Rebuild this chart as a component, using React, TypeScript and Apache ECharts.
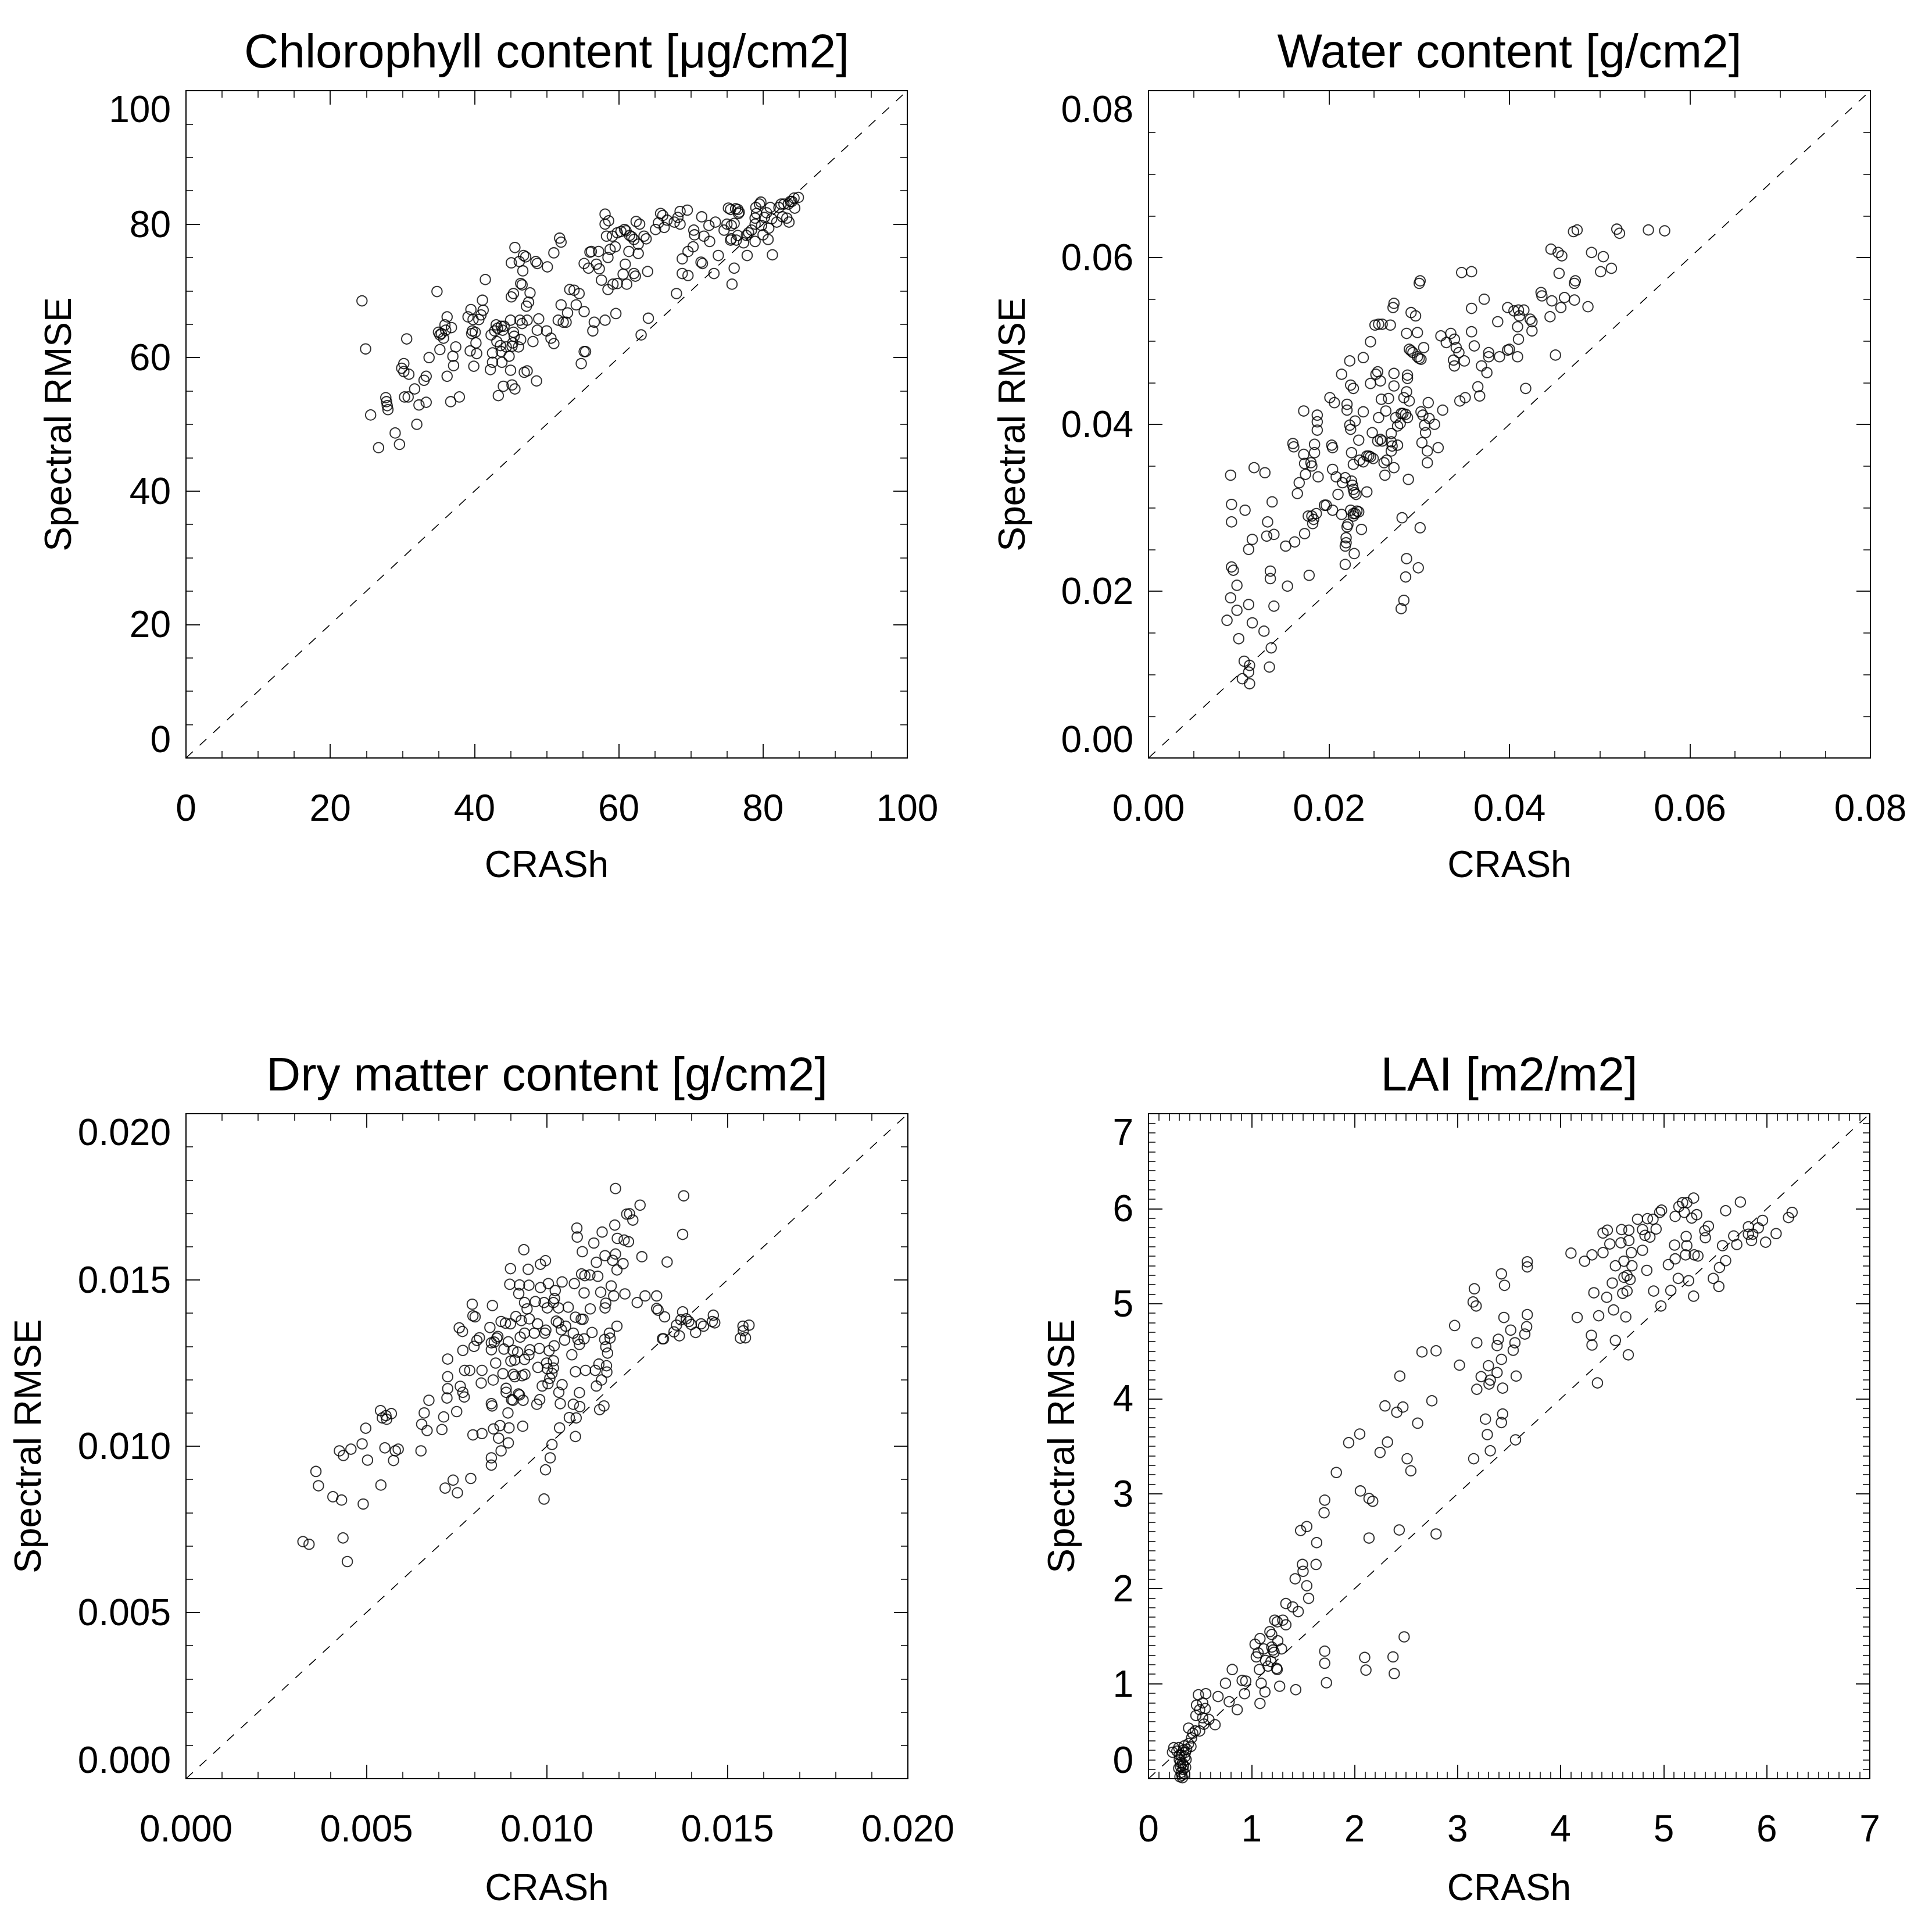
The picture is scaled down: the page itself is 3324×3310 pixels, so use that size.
import React, { useEffect, useRef } from "react";
import * as echarts from "echarts";

const FONT = '"Liberation Sans", Arial, Helvetica, sans-serif';

// ---------- data ----------
const chlorophyllTitle = "Chlorophyll content [μg/cm2]";
const waterTitle = "Water content [g/cm2]";
const dryMatterTitle = "Dry matter content [g/cm2]";
const laiTitle = "LAI [m2/m2]";
const xAxisName = "CRASh";
const yAxisName = "Spectral RMSE";

const chlorophyllPoints: number[][] = [
  [24.4,68.5],[24.9,61.3],[25.6,51.4],[26.7,46.5],[27.7,54.0],[27.8,53.4],[27.9,52.8],[28.0,52.2],[29.0,48.7],[29.6,47.0],
  [29.9,58.4],[30.2,59.1],[30.2,57.9],[30.3,54.1],[30.8,54.1],[30.6,62.8],[30.9,57.5],[31.7,55.3],[32.0,50.0],[32.3,52.9],
  [33.0,56.6],[33.3,57.2],[33.3,53.3],[33.7,60.0],[34.8,69.9],[35.0,63.8],[35.2,61.2],[35.2,63.4],[35.4,63.6],[35.7,62.9],
  [36.0,64.1],[36.2,66.1],[35.9,64.9],[36.2,57.2],[36.7,53.4],[36.8,64.5],[37.0,60.2],[37.1,58.8],[37.4,61.6],[37.9,54.1],
  [39.1,66.1],[39.5,67.2],[39.4,61.0],[39.6,63.6],[39.7,64.0],[40.1,63.8],[39.8,65.7],[39.9,58.7],[40.2,62.2],[40.3,60.6],
  [40.6,65.7],[40.9,66.4],[41.1,68.6],[41.2,67.1],[41.5,71.7],[42.2,58.2],[42.3,63.4],[42.5,59.3],[42.5,60.7],[42.8,64.0],
  [43.0,64.9],[43.2,64.4],[43.1,62.4],[43.3,54.3],[43.6,61.8],[43.8,59.3],[43.7,60.9],[43.7,64.7],[44.1,64.7],[43.9,64.1],
  [44.0,55.7],[44.4,61.6],[44.8,60.2],[45.0,58.1],[45.0,65.6],[45.2,61.7],[45.3,62.2],[45.1,74.2],[45.6,76.5],[45.1,69.1],
  [45.4,69.6],[45.2,55.9],[45.6,55.3],[45.4,63.8],[45.5,63.2],[46.1,61.6],[46.2,74.4],[46.4,71.1],[46.3,65.6],[46.4,62.7],
  [46.6,65.1],[46.7,73.0],[46.6,70.9],[46.8,75.3],[47.1,75.1],[46.9,57.8],[47.3,58.0],[47.2,67.7],[47.5,68.3],[47.3,65.6],
  [47.7,69.7],[48.1,62.4],[48.5,74.4],[48.7,74.1],[48.6,56.5],[48.9,65.8],[48.7,64.1],[50.0,64.0],[50.1,73.6],[50.6,62.9],
  [51.0,62.1],[51.0,75.7],[51.6,65.6],[51.8,77.9],[52.0,77.3],[52.0,67.9],[52.3,65.3],[52.7,65.3],[52.9,66.7],[53.2,70.2],
  [53.8,70.1],[54.1,67.9],[54.5,69.6],[54.8,59.1],[55.2,66.9],[55.2,74.1],[55.2,60.9],[55.4,60.9],[55.8,73.4],[56.0,75.8],
  [56.2,75.9],[56.4,64.0],[56.6,65.3],[56.9,74.0],[57.3,73.3],[57.2,75.9],[57.6,71.6],[58.1,81.5],[58.1,80.0],[58.3,78.2],
  [58.1,65.6],[58.6,80.5],[58.5,70.2],[58.5,75.0],[58.8,76.2],[59.1,78.2],[59.6,66.6],[59.2,71.0],[59.8,71.1],[59.5,76.6],
  [59.8,78.7],[60.3,78.9],[60.6,72.5],[60.8,79.2],[61.0,79.0],[60.9,74.0],[61.1,71.0],[61.4,75.9],[61.5,78.3],[61.8,78.1],
  [62.1,77.7],[62.1,72.6],[62.3,72.2],[62.4,80.4],[62.7,75.6],[62.9,80.0],[62.7,77.0],[63.1,63.4],[63.5,78.2],[63.8,77.8],
  [64.0,72.9],[64.1,65.9],[65.1,79.2],[65.8,81.6],[66.1,81.3],[65.5,80.2],[66.3,79.5],[66.7,80.6],[67.7,80.3],[68.2,81.0],
  [68.0,69.6],[68.5,80.0],[68.5,81.9],[68.8,74.8],[68.8,72.6],[69.5,82.1],[69.6,72.3],[69.6,75.9],[70.3,76.6],[70.4,79.1],
  [70.5,78.4],[71.4,74.3],[71.6,74.1],[71.5,81.1],[71.8,78.2],[72.5,79.8],[72.6,77.4],[73.2,72.6],[73.4,80.3],[73.8,75.3],
  [74.6,79.1],[75.0,80.0],[75.2,82.4],[75.5,82.2],[75.5,77.6],[75.6,77.8],[75.6,79.8],[76.0,80.1],[75.7,71.0],[76.0,73.4],
  [76.2,82.3],[76.5,82.2],[76.6,81.6],[76.7,81.8],[76.5,78.3],[76.3,77.6],[77.3,77.2],[77.7,78.3],[78.0,78.7],[77.8,75.3],
  [78.4,79.1],[78.9,80.0],[78.9,80.9],[79.0,82.5],[79.1,81.6],[78.9,77.4],[79.5,83.0],[79.7,83.3],[79.8,79.8],[80.0,78.4],
  [80.2,81.0],[80.5,81.7],[80.7,77.7],[80.8,79.4],[81.0,82.5],[81.3,75.4],[81.2,80.8],[81.9,80.3],[82.2,82.5],[82.5,83.0],
  [82.9,83.0],[82.7,81.1],[83.3,80.9],[83.6,80.3],[83.5,83.0],[83.8,83.4],[84.3,83.9],[84.9,84.0],[84.4,82.4],[84.0,83.4]
];

const waterPoints: number[][] = [
  [0.0087,0.0165],[0.0091,0.0339],[0.0092,0.0304],[0.0092,0.0283],[0.0092,0.0229],[0.0094,0.0225],[0.0091,0.0192],[0.0098,0.0207],
  [0.0098,0.0177],[0.0100,0.0143],[0.0106,0.0116],[0.0104,0.0095],[0.0107,0.0297],[0.0111,0.0250],[0.0111,0.0184],[0.0112,0.0111],
  [0.0111,0.0103],[0.0112,0.0089],[0.0115,0.0262],[0.0115,0.0162],[0.0117,0.0348],[0.0128,0.0152],[0.0129,0.0342],[0.0131,0.0266],
  [0.0132,0.0283],[0.0134,0.0109],[0.0135,0.0215],[0.0135,0.0224],[0.0136,0.0132],[0.0137,0.0307],[0.0139,0.0268],[0.0139,0.0182],
  [0.0152,0.0254],[0.0154,0.0206],[0.0160,0.0377],[0.0161,0.0373],[0.0162,0.0259],[0.0165,0.0317],[0.0167,0.0330],[0.0172,0.0416],
  [0.0172,0.0364],[0.0173,0.0353],[0.0174,0.0340],[0.0173,0.0269],[0.0177,0.0290],[0.0178,0.0219],[0.0180,0.0354],[0.0181,0.0350],
  [0.0181,0.0290],[0.0182,0.0281],[0.0183,0.0286],[0.0184,0.0376],[0.0184,0.0366],[0.0187,0.0411],[0.0187,0.0403],[0.0187,0.0393],
  [0.0188,0.0337],[0.0186,0.0293],[0.0195,0.0303],[0.0197,0.0303],[0.0201,0.0432],[0.0204,0.0372],[0.0203,0.0375],[0.0204,0.0346],
  [0.0204,0.0297],[0.0206,0.0426],[0.0208,0.0337],[0.0210,0.0316],[0.0214,0.0460],[0.0214,0.0292],[0.0215,0.0330],[0.0218,0.0336],
  [0.0218,0.0232],[0.0218,0.0254],[0.0219,0.0258],[0.0219,0.0264],[0.0220,0.0277],[0.0221,0.0280],[0.0220,0.0424],[0.0220,0.0417],
  [0.0223,0.0476],[0.0223,0.0399],[0.0224,0.0394],[0.0224,0.0447],[0.0227,0.0443],[0.0225,0.0366],[0.0225,0.0332],[0.0226,0.0327],
  [0.0227,0.0322],[0.0228,0.0318],[0.0224,0.0297],[0.0227,0.0293],[0.0227,0.0290],[0.0229,0.0293],[0.0227,0.0352],[0.0229,0.0404],
  [0.0228,0.0245],[0.0230,0.0316],[0.0231,0.0296],[0.0233,0.0295],[0.0233,0.0381],[0.0234,0.0357],[0.0236,0.0274],[0.0238,0.0480],
  [0.0238,0.0415],[0.0238,0.0355],[0.0242,0.0319],[0.0242,0.0362],[0.0244,0.0362],[0.0246,0.0361],[0.0246,0.0499],[0.0246,0.0449],
  [0.0248,0.0390],[0.0249,0.0359],[0.0251,0.0519],[0.0255,0.0520],[0.0259,0.0520],[0.0252,0.0460],[0.0254,0.0463],[0.0254,0.0380],
  [0.0255,0.0408],[0.0257,0.0452],[0.0258,0.0430],[0.0257,0.0382],[0.0259,0.0380],[0.0261,0.0354],[0.0262,0.0339],[0.0263,0.0416],
  [0.0264,0.0357],[0.0266,0.0431],[0.0268,0.0519],[0.0269,0.0368],[0.0270,0.0374],[0.0269,0.0379],[0.0269,0.0389],[0.0271,0.0540],
  [0.0272,0.0545],[0.0272,0.0348],[0.0272,0.0446],[0.0272,0.0461],[0.0274,0.0408],[0.0276,0.0398],[0.0276,0.0375],[0.0279,0.0401],
  [0.0280,0.0413],[0.0281,0.0288],[0.0280,0.0179],[0.0283,0.0189],[0.0283,0.0432],[0.0282,0.0413],[0.0285,0.0412],[0.0285,0.0217],
  [0.0286,0.0239],[0.0286,0.0509],[0.0287,0.0455],[0.0287,0.0459],[0.0286,0.0439],[0.0287,0.0408],[0.0288,0.0334],[0.0289,0.0490],
  [0.0291,0.0488],[0.0293,0.0486],[0.0289,0.0428],[0.0291,0.0534],[0.0296,0.0530],[0.0298,0.0510],[0.0298,0.0481],[0.0300,0.0479],
  [0.0302,0.0478],[0.0300,0.0569],[0.0301,0.0572],[0.0299,0.0228],[0.0301,0.0276],[0.0302,0.0415],[0.0304,0.0411],[0.0303,0.0378],
  [0.0305,0.0492],[0.0307,0.0390],[0.0306,0.0399],[0.0309,0.0368],[0.0309,0.0354],[0.0310,0.0426],[0.0311,0.0407],[0.0317,0.0400],
  [0.0321,0.0372],[0.0324,0.0506],[0.0326,0.0417],[0.0330,0.0498],[0.0335,0.0509],[0.0339,0.0502],[0.0341,0.0492],[0.0344,0.0486],
  [0.0338,0.0477],[0.0339,0.0470],[0.0345,0.0428],[0.0347,0.0582],[0.0351,0.0432],[0.0350,0.0476],[0.0358,0.0583],[0.0358,0.0539],
  [0.0358,0.0511],[0.0361,0.0494],[0.0365,0.0445],[0.0367,0.0434],[0.0369,0.0470],[0.0372,0.0550],[0.0375,0.0462],[0.0377,0.0486],
  [0.0377,0.0481],[0.0387,0.0523],[0.0389,0.0481],[0.0398,0.0489],[0.0400,0.0490],[0.0398,0.0540],[0.0405,0.0536],[0.0410,0.0537],
  [0.0411,0.0530],[0.0409,0.0517],[0.0410,0.0502],[0.0409,0.0481],[0.0416,0.0537],[0.0418,0.0443],[0.0423,0.0526],[0.0425,0.0523],
  [0.0425,0.0512],[0.0435,0.0558],[0.0436,0.0554],[0.0445,0.0529],[0.0446,0.0610],[0.0447,0.0548],[0.0451,0.0483],[0.0454,0.0606],
  [0.0458,0.0602],[0.0455,0.0581],[0.0457,0.0540],[0.0461,0.0552],[0.0472,0.0549],[0.0471,0.0631],[0.0475,0.0633],[0.0472,0.0569],
  [0.0473,0.0572],[0.0487,0.0541],[0.0491,0.0606],[0.0501,0.0583],[0.0504,0.0601],[0.0513,0.0587],[0.0519,0.0634],[0.0522,0.0629],
  [0.0554,0.0633],[0.0572,0.0632]
];

const dryMatterPoints: number[][] = [
  [0.00324,0.00713],[0.00341,0.00705],[0.00360,0.00924],[0.00367,0.00881],[0.00407,0.00848],[0.00425,0.00986],[0.00436,0.00972],
  [0.00431,0.00838],[0.00435,0.00724],[0.00447,0.00653],[0.00457,0.00991],[0.00488,0.01007],[0.00491,0.00826],[0.00498,0.01054],
  [0.00503,0.00958],[0.00539,0.01107],[0.00540,0.00883],[0.00544,0.01085],[0.00554,0.01092],[0.00569,0.01098],[0.00556,0.01081],
  [0.00551,0.00995],[0.00575,0.00957],[0.00580,0.00986],[0.00588,0.00991],[0.00651,0.00986],[0.00653,0.01066],[0.00660,0.01100],
  [0.00668,0.01047],[0.00673,0.01138],[0.00709,0.01050],[0.00714,0.01088],[0.00718,0.00874],[0.00723,0.01145],[0.00725,0.01173],
  [0.00725,0.01209],[0.00725,0.01262],[0.00740,0.00898],[0.00750,0.01104],[0.00752,0.00860],[0.00757,0.01356],[0.00766,0.01345],
  [0.00760,0.01180],[0.00767,0.01288],[0.00767,0.01162],[0.00771,0.01148],[0.00772,0.01228],[0.00786,0.01228],[0.00789,0.00903],
  [0.00793,0.01427],[0.00795,0.01392],[0.00801,0.01389],[0.00795,0.01034],[0.00798,0.01300],[0.00806,0.01318],[0.00813,0.01326],
  [0.00818,0.01190],[0.00820,0.01228],[0.00820,0.01038],[0.00842,0.01357],[0.00846,0.01311],[0.00846,0.01290],[0.00846,0.01128],
  [0.00848,0.01121],[0.00846,0.00965],[0.00846,0.00943],[0.00849,0.01423],[0.00851,0.01199],[0.00854,0.01313],[0.00858,0.01250],
  [0.00852,0.01052],[0.00861,0.01325],[0.00864,0.01330],[0.00866,0.01024],[0.00870,0.01062],[0.00873,0.01375],[0.00873,0.00986],
  [0.00878,0.01218],[0.00881,0.01292],[0.00885,0.01370],[0.00887,0.01162],[0.00887,0.01174],[0.00892,0.01100],[0.00893,0.01010],
  [0.00893,0.01314],[0.00895,0.01055],[0.00897,0.01487],[0.00899,0.01534],[0.00899,0.01368],[0.00900,0.01256],[0.00902,0.01140],
  [0.00906,0.01138],[0.00906,0.01288],[0.00907,0.01216],[0.00911,0.01209],[0.00911,0.01259],[0.00914,0.01390],[0.00919,0.01283],
  [0.00921,0.01157],[0.00924,0.01154],[0.00922,0.01459],[0.00924,0.01485],[0.00926,0.01328],[0.00929,0.01378],[0.00931,0.01212],
  [0.00933,0.01060],[0.00934,0.01138],[0.00936,0.01591],[0.00938,0.01340],[0.00938,0.01261],[0.00938,0.01432],[0.00939,0.01216],
  [0.00945,0.01413],[0.00948,0.01532],[0.00950,0.01484],[0.00950,0.01275],[0.00951,0.01383],[0.00953,0.01290],[0.00965,0.01340],
  [0.00968,0.01435],[0.00972,0.01126],[0.00974,0.01368],[0.00975,0.01237],[0.00979,0.01294],[0.00980,0.01140],[0.00982,0.01547],
  [0.00982,0.01477],[0.00987,0.01181],[0.00992,0.01432],[0.00994,0.01340],[0.00997,0.01349],[0.00996,0.01558],[0.00996,0.00929],
  [0.00992,0.00841],[0.00999,0.01250],[0.01001,0.01233],[0.01001,0.01416],[0.01003,0.01188],[0.01004,0.01489],[0.01006,0.01287],
  [0.01008,0.01204],[0.01009,0.00965],[0.01014,0.01005],[0.01014,0.01219],[0.01018,0.01257],[0.01018,0.01235],[0.01018,0.01432],
  [0.01021,0.01444],[0.01020,0.01302],[0.01023,0.01468],[0.01026,0.01376],[0.01032,0.01371],[0.01032,0.01416],[0.01033,0.01162],
  [0.01035,0.01055],[0.01037,0.01128],[0.01040,0.01350],[0.01042,0.01494],[0.01042,0.01185],[0.01049,0.01319],[0.01052,0.01361],
  [0.01059,0.01418],[0.01062,0.01086],[0.01069,0.01275],[0.01073,0.01340],[0.01073,0.01126],[0.01076,0.01489],[0.01079,0.01388],
  [0.01079,0.01224],[0.01079,0.01029],[0.01081,0.01085],[0.01083,0.01656],[0.01084,0.01629],[0.01086,0.01321],[0.01090,0.01306],
  [0.01090,0.01161],[0.01091,0.01119],[0.01095,0.01382],[0.01100,0.01382],[0.01096,0.01518],[0.01098,0.01585],[0.01103,0.01461],
  [0.01105,0.01513],[0.01103,0.01323],[0.01107,0.01228],[0.01119,0.01515],[0.01120,0.01413],[0.01125,0.01342],[0.01130,0.01611],
  [0.01134,0.01228],[0.01137,0.01553],[0.01137,0.01181],[0.01141,0.01511],[0.01144,0.01247],[0.01146,0.01110],[0.01149,0.01463],
  [0.01151,0.01199],[0.01153,0.01644],[0.01158,0.01121],[0.01160,0.01321],[0.01161,0.01573],[0.01161,0.01416],[0.01163,0.01430],
  [0.01163,0.01299],[0.01165,0.01242],[0.01166,0.01223],[0.01168,0.01280],[0.01173,0.01340],[0.01175,0.01325],[0.01178,0.01482],
  [0.01182,0.01559],[0.01185,0.01452],[0.01188,0.01665],[0.01190,0.01775],[0.01190,0.01578],[0.01194,0.01530],[0.01194,0.01361],
  [0.01195,0.01625],[0.01211,0.01549],[0.01214,0.01620],[0.01216,0.01458],[0.01221,0.01698],[0.01226,0.01615],[0.01229,0.01699],
  [0.01238,0.01680],[0.01250,0.01432],[0.01258,0.01725],[0.01263,0.01570],[0.01272,0.01452],[0.01304,0.01414],[0.01304,0.01452],
  [0.01308,0.01409],[0.01320,0.01323],[0.01326,0.01389],[0.01323,0.01323],[0.01333,0.01554],[0.01352,0.01344],[0.01359,0.01364],
  [0.01367,0.01332],[0.01371,0.01380],[0.01376,0.01637],[0.01376,0.01404],[0.01379,0.01753],[0.01386,0.01383],[0.01393,0.01375],
  [0.01400,0.01366],[0.01412,0.01342],[0.01427,0.01368],[0.01434,0.01361],[0.01458,0.01375],[0.01465,0.01371],[0.01461,0.01394],
  [0.01536,0.01325],[0.01543,0.01361],[0.01550,0.01326],[0.01560,0.01364],[0.01544,0.01347]
];

const laiPoints: number[][] = [
  [0.233,0.278],[0.245,0.326],[0.275,0.290],[0.293,0.326],[0.299,0.200],[0.311,0.127],[0.317,0.067],[0.317,0.248],[0.329,0.163],
  [0.335,0.097],[0.341,0.302],[0.353,0.230],[0.359,0.278],[0.365,0.200],[0.347,0.345],[0.389,0.369],[0.323,0.036],[0.293,0.109],
  [0.305,0.020],[0.330,0.010],[0.350,0.050],[0.310,0.170],[0.340,0.140],[0.360,0.120],[0.300,0.250],[0.370,0.310],
  [0.412,0.339],[0.418,0.429],[0.389,0.532],[0.430,0.478],[0.454,0.502],[0.460,0.665],[0.466,0.774],[0.496,0.502],[0.526,0.641],
  [0.496,0.726],[0.526,0.798],[0.538,0.574],[0.550,0.738],[0.556,0.895],[0.484,0.883],[0.586,0.623],[0.646,0.568],[0.675,0.865],
  [0.747,1.004],[0.783,0.810],[0.813,1.149],[0.861,0.726],[0.909,1.034],[0.932,0.895],[0.944,1.028],[1.034,1.415],[1.046,1.282],
  [1.064,1.324],[1.076,1.149],[1.082,1.475],[1.082,0.792],[1.094,1.004],[1.118,1.366],[1.130,0.913],[1.136,1.245],[1.160,1.185],
  [1.178,1.548],[1.196,1.518],[1.189,1.233],[1.196,1.385],[1.208,1.354],[1.219,1.330],[1.225,1.669],[1.249,1.651],[1.243,1.161],
  [1.249,1.149],[1.255,1.451],[1.273,0.973],[1.291,1.366],[1.303,1.669],[1.333,1.620],[1.333,1.844],[1.399,1.808],[1.429,0.937],
  [1.423,2.104],[1.453,1.759],[1.476,2.612],[1.494,2.255],[1.500,2.183],[1.536,2.654],[1.536,2.031],[1.554,1.898],[1.626,2.255],
  [1.632,2.485],[1.704,2.799],[1.710,2.932],[1.710,1.342],[1.710,1.215],[1.727,1.010],[1.823,3.223],[1.943,3.537],[2.056,3.029],
  [2.050,3.628],[2.098,1.276],[2.110,1.143],[2.140,2.533],[2.140,2.950],[2.176,2.920],[2.247,3.434],[2.295,3.924],[2.319,3.543],
  [2.373,1.282],[2.385,1.106],[2.409,3.857],[2.433,2.618],[2.439,4.238],[2.469,3.912],[2.481,1.493],[2.510,3.368],[2.546,3.241],
  [2.612,3.742],[2.654,4.492],[2.750,3.978],[2.791,4.504],[2.791,2.576],[2.971,4.770],[3.018,4.353],[3.150,5.018],[3.162,5.157],
  [3.156,3.368],[3.180,4.976],[3.186,4.589],[3.186,4.099],[3.228,4.232],[3.270,3.785],[3.288,3.622],[3.299,4.347],[3.305,4.154],
  [3.317,4.196],[3.317,3.452],[3.383,4.559],[3.395,4.625],[3.383,4.275],[3.425,5.314],[3.425,4.414],[3.425,3.749],[3.437,3.839],
  [3.437,4.111],[3.455,5.193],[3.449,4.855],[3.515,4.722],[3.539,4.510],[3.556,4.589],[3.562,3.567],[3.568,4.238],[3.652,4.680],
  [3.670,4.758],[3.676,4.885],[3.676,5.441],[3.676,5.387],[4.100,5.532],[4.160,4.855],[4.232,5.447],[4.298,4.667],[4.304,4.565],
  [4.304,5.514],[4.322,5.115],[4.357,4.166],[4.369,4.873],[4.411,5.744],[4.453,5.774],[4.411,5.538],[4.447,5.067],[4.477,5.629],
  [4.501,5.218],[4.513,4.934],[4.531,4.613],[4.531,5.399],[4.585,5.641],[4.591,5.780],[4.602,5.109],[4.614,5.278],[4.614,5.447],
  [4.632,4.861],[4.644,5.133],[4.644,5.296],[4.674,5.254],[4.656,4.462],[4.662,5.774],[4.662,5.665],[4.686,5.538],[4.692,5.399],
  [4.746,5.889],[4.794,5.562],[4.794,5.780],[4.818,5.719],[4.836,5.351],[4.842,5.895],[4.866,5.701],[4.896,5.889],[4.902,5.133],
  [4.926,5.786],[4.961,5.961],[4.979,5.985],[4.973,4.976],[5.045,5.411],[5.069,5.139],[5.111,5.919],[5.105,5.617],[5.111,5.472],
  [5.141,5.266],[5.147,6.022],[5.183,6.064],[5.224,6.064],[5.290,6.112],[5.200,5.961],[5.212,5.514],[5.218,5.707],[5.224,5.611],
  [5.242,5.242],[5.272,5.901],[5.290,5.079],[5.296,5.514],[5.332,5.502],[5.320,5.937],[5.398,5.768],[5.434,5.816],[5.404,5.695],
  [5.481,5.266],[5.535,5.181],[5.541,5.381],[5.571,5.611],[5.601,5.453],[5.601,5.979],[5.679,5.713],[5.709,5.623],[5.744,6.070],
  [5.822,5.810],[5.822,5.732],[5.852,5.665],[5.864,5.732],[5.918,5.798],[5.959,5.877],[5.989,5.647],[6.091,5.738],[6.211,5.907],
  [6.246,5.961]
];

// axis ranges / ticks
const chlorophyllAxis = { max: 100, interval: 20, minor: 4, decimals: 0 };
const waterAxis = { max: 0.08, interval: 0.02, minor: 4, decimals: 2 };
const dryMatterAxis = { max: 0.02, interval: 0.005, minor: 5, decimals: 3 };
const laiAxis = { max: 7, interval: 1, minor: 10, decimals: 0 };

// ---------- layout ----------
const panels = [
  { title: chlorophyllTitle, data: chlorophyllPoints, axis: chlorophyllAxis, left: 320, top: 156, width: 1241, height: 1148, yGap: 188, xGap: 151, titleY: 87 },
  { title: waterTitle, data: waterPoints, axis: waterAxis, left: 1976, top: 156, width: 1242, height: 1148, yGap: 203, xGap: 151, titleY: 87 },
  { title: dryMatterTitle, data: dryMatterPoints, axis: dryMatterAxis, left: 320, top: 1916, width: 1242, height: 1144, yGap: 240, xGap: 155, titleY: 1847 },
  { title: laiTitle, data: laiPoints, axis: laiAxis, left: 1976, top: 1916, width: 1241, height: 1144, yGap: 118, xGap: 155, titleY: 1847 },
];

function buildOption() {
  const grid: any[] = [];
  const xAxis: any[] = [];
  const yAxis: any[] = [];
  const series: any[] = [];
  const graphic: any[] = [];

  panels.forEach((p, i) => {
    grid.push({ left: p.left, top: p.top, width: p.width, height: p.height, containLabel: false, outerBoundsMode: "none" });
    const a = p.axis;
    const base = (isX: boolean, primary: boolean) => ({
      type: "value",
      gridIndex: i,
      min: 0,
      max: a.max,
      interval: a.interval,
      position: isX ? (primary ? "bottom" : "top") : (primary ? "left" : "right"),
      axisLine: { show: true, onZero: false, lineStyle: { color: "#000", width: 2 } },
      axisTick: { show: true, inside: true, length: 24, lineStyle: { color: "#000", width: 1.8 } },
      minorTick: { show: true, splitNumber: a.minor, length: 12, lineStyle: { color: "#000", width: 1.5 } },
      splitLine: { show: false },
      minorSplitLine: { show: false },
      axisLabel: primary
        ? {
            show: true,
            color: "#000",
            fontSize: 64,
            fontFamily: FONT,
            margin: isX ? 54 : 26,
            showMinLabel: true,
            showMaxLabel: true,
            hideOverlap: false,
            formatter: (v: number) => v.toFixed(a.decimals),
            ...(isX ? {} : { verticalAlignMinLabel: "bottom", verticalAlignMaxLabel: "top" }),
          }
        : { show: false },
      name: primary ? (isX ? xAxisName : yAxisName) : "",
      nameLocation: "middle",
      nameGap: isX ? p.xGap : p.yGap,
      nameRotate: isX ? 0 : 90,
      nameTextStyle: { color: "#000", fontSize: 64, fontFamily: FONT },
      nameMoveOverlap: false,
    });
    xAxis.push(base(true, true));
    xAxis.push(base(true, false));
    yAxis.push(base(false, true));
    yAxis.push(base(false, false));

    series.push({
      type: "line",
      xAxisIndex: 2 * i,
      yAxisIndex: 2 * i,
      data: [[0, 0], [a.max, a.max]],
      symbol: "none",
      showSymbol: false,
      silent: true,
      lineStyle: { color: "#000", width: 1.6, type: [16, 16] },
      z: 1,
    });
    series.push({
      type: "scatter",
      xAxisIndex: 2 * i,
      yAxisIndex: 2 * i,
      data: p.data,
      symbol: "circle",
      symbolSize: 17.5,
      silent: true,
      itemStyle: { color: "rgba(0,0,0,0)", borderColor: "#000", borderWidth: 2 },
      z: 2,
    });

    graphic.push({
      type: "text",
      x: p.left + p.width / 2,
      y: p.titleY,
      silent: true,
      style: {
        text: p.title,
        fontSize: 82,
        fontFamily: FONT,
        fill: "#000",
        align: "center",
        verticalAlign: "middle",
        textAlign: "center",
        textVerticalAlign: "middle",
      },
    });
  });

  return {
    animation: false,
    backgroundColor: "#fff",
    grid,
    xAxis,
    yAxis,
    series,
    graphic,
  };
}

export default function App() {
  const ref = useRef<HTMLDivElement>(null);
  useEffect(() => {
    document.body.style.margin = "0";
    if (!ref.current) return;
    const chart = echarts.init(ref.current, undefined, { renderer: "svg" });
    chart.setOption(buildOption() as any);
    return () => chart.dispose();
  }, []);
  return <div ref={ref} style={{ width: 3324, height: 3310, background: "#fff" }} />;
}
